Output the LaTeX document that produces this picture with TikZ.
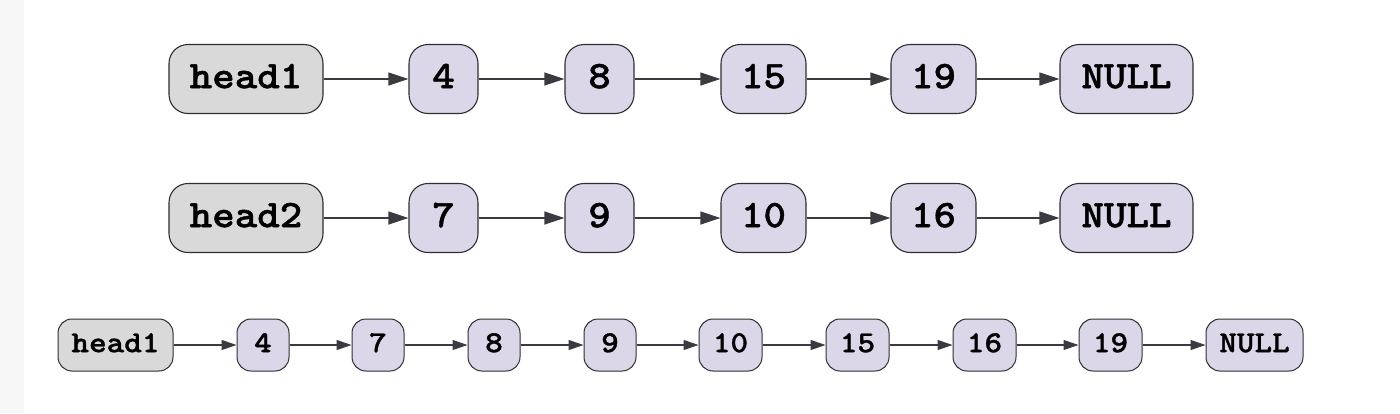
\documentclass[tikz,border=0pt]{standalone}
\usepackage{fontspec}
\newfontfamily\nodefont{lmmonolt10-bold}[Extension=.otf, FakeBold=1.1, FakeStretch=1.1]
\usetikzlibrary{arrows.meta}
\definecolor{headfill}{HTML}{D9D9D9}
\definecolor{nodefill}{HTML}{DCD6E9}
\definecolor{edgecol}{HTML}{2E2E33}
\definecolor{arrcol}{HTML}{3A3A40}
\tikzset{
  big/.style={draw=edgecol, line width=1.1pt, rounded corners=19pt, inner sep=0pt,
    minimum height=69pt, text height=23.4pt, text depth=5.1pt,
    font=\fontsize{39}{39}\selectfont\nodefont},
  small/.style={draw=edgecol, line width=1pt, rounded corners=14pt, inner sep=0pt,
    minimum height=52pt, text height=18.3pt, text depth=4pt,
    font=\fontsize{30.5}{30.5}\selectfont\nodefont},
  headbox/.style={fill=headfill},
  valbox/.style={fill=nodefill},
  bigarr/.style={draw=arrcol, line width=1.3pt, -{Triangle[length=20pt,width=13pt]}},
  smallarr/.style={draw=arrcol, line width=1.1pt, -{Triangle[length=15pt,width=10pt]}}
}
\begin{document}
\begin{tikzpicture}[x=1pt,y=-1pt]
\useasboundingbox (0,0) rectangle (1400,413);
\fill[black!3] (0,0) rectangle (24,413);
% row 1
\node[big,headbox,minimum width=154pt] (a0) at (246,79) {head1};
\node[big,valbox,minimum width=69pt] (a1) at (443.5,79) {4};
\node[big,valbox,minimum width=69pt] (a2) at (599.5,79) {8};
\node[big,valbox,minimum width=85pt] (a3) at (763.5,79) {15};
\node[big,valbox,minimum width=85pt] (a4) at (933.5,79) {19};
\node[big,valbox,minimum width=133pt] (a5) at (1126.5,79) {NULL};
\foreach \i/\j in {a0/a1,a1/a2,a2/a3,a3/a4,a4/a5} \draw[bigarr] (\i) -- (\j);
% row 2
\node[big,headbox,minimum width=154pt] (b0) at (246,218) {head2};
\node[big,valbox,minimum width=69pt] (b1) at (443.5,218) {7};
\node[big,valbox,minimum width=69pt] (b2) at (599.5,218) {9};
\node[big,valbox,minimum width=85pt] (b3) at (763.5,218) {10};
\node[big,valbox,minimum width=85pt] (b4) at (933.5,218) {16};
\node[big,valbox,minimum width=133pt] (b5) at (1126.5,218) {NULL};
\foreach \i/\j in {b0/b1,b1/b2,b2/b3,b3/b4,b4/b5} \draw[bigarr] (\i) -- (\j);
% row 3
\node[small,headbox,minimum width=115pt] (c0) at (115.5,345) {head1};
\node[small,valbox,minimum width=52pt] (c1) at (263,345) {4};
\node[small,valbox,minimum width=52pt] (c2) at (378,345) {7};
\node[small,valbox,minimum width=52pt] (c3) at (494,345) {8};
\node[small,valbox,minimum width=52pt] (c4) at (610,345) {9};
\node[small,valbox,minimum width=63pt] (c5) at (730.5,345) {10};
\node[small,valbox,minimum width=63pt] (c6) at (857.5,345) {15};
\node[small,valbox,minimum width=63pt] (c7) at (984.5,345) {16};
\node[small,valbox,minimum width=63pt] (c8) at (1110.5,345) {19};
\node[small,valbox,minimum width=97pt] (c9) at (1254.5,345) {NULL};
\foreach \i/\j in {c0/c1,c1/c2,c2/c3,c3/c4,c4/c5,c5/c6,c6/c7,c7/c8,c8/c9} \draw[smallarr] (\i) -- (\j);
\end{tikzpicture}
\end{document}
